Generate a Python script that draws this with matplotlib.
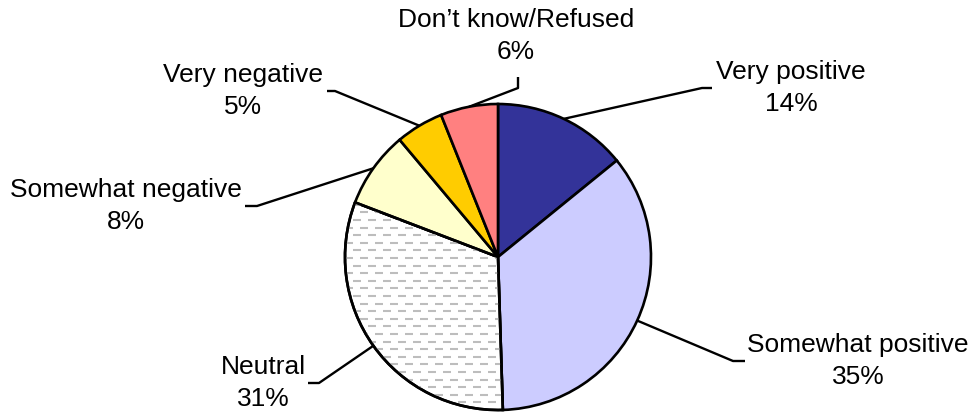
import numpy as np
import matplotlib
matplotlib.use('Agg')
import matplotlib.pyplot as plt
from matplotlib.collections import LineCollection
from matplotlib.patches import Wedge

plt.rcParams['font.family'] = ['Liberation Sans', 'DejaVu Sans']

# dane
categories = ['Very positive', 'Somewhat positive', 'Neutral',
              'Somewhat negative', 'Very negative', 'Don\u2019t know/Refused']
values = [14, 35, 31, 8, 5, 6]
colors = ['#333399', '#CCCCFF', '#FFFFFF', '#FFFFCC', '#FFCC00', '#FF8080']

# polozenie etykiet (piksele, y od gory) i punkt zalamania linii
label_pos = [(791, 88), (858, 361), (263, 383), (126, 206), (243, 91), (516, 36)]
elbow = [(702, 88), (733, 361), (319, 383), (257, 206), (335, 91), (518, 88)]
tail = [(712, 88), (745, 361), (308, 383), (245, 206), (327, 91), (518, 77)]

W, H = 973, 412
fig = plt.figure(figsize=(W / 100, H / 100), dpi=100)
ax = fig.add_axes([0, 0, 1, 1])

cx, cy, r = 498, H - 257, 153
wedges, _ = ax.pie(values, colors=colors, startangle=90, counterclock=False,
                   center=(cx, cy), radius=r, frame=True,
                   wedgeprops=dict(edgecolor='black', linewidth=1.9))
ax.set_xlim(0, W)
ax.set_ylim(0, H)
ax.axis('off')

# wzor kreskowany dla "Neutral"
nw = wedges[2]
segs = []
for i, yy in enumerate(np.arange(cy - r, cy + r, 7.6)):
    off = 0 if i % 2 == 0 else 7.5
    for xx in np.arange(cx - r - 15 + off, cx + 5, 15):
        segs.append([(xx, yy), (xx + 8, yy)])
lc = LineCollection(segs, colors='#bdbdbd', linewidths=1.5, zorder=nw.get_zorder() + 0.1)
ax.add_collection(lc)
lc.set_clip_path(nw)
# obrys ponad kreskami
ax.add_patch(Wedge((cx, cy), r, nw.theta1, nw.theta2, facecolor='none',
                   edgecolor='black', linewidth=1.9, zorder=nw.get_zorder() + 0.2))

for w, name, v, lp, el, tl in zip(wedges, categories, values, label_pos, elbow, tail):
    ang = np.deg2rad((w.theta1 + w.theta2) / 2)
    ex, ey = cx + r * np.cos(ang), cy + r * np.sin(ang)
    ax.plot([ex, el[0], tl[0]], [ey, H - el[1], H - tl[1]], color='black', lw=1.7,
            solid_capstyle='butt', zorder=0.5)
    ax.text(lp[0], H - lp[1], f'{name}\n{v}%', ha='center', va='center',
            fontsize=19, linespacing=1.4, color='black')

fig.savefig('out.png', dpi=100)
